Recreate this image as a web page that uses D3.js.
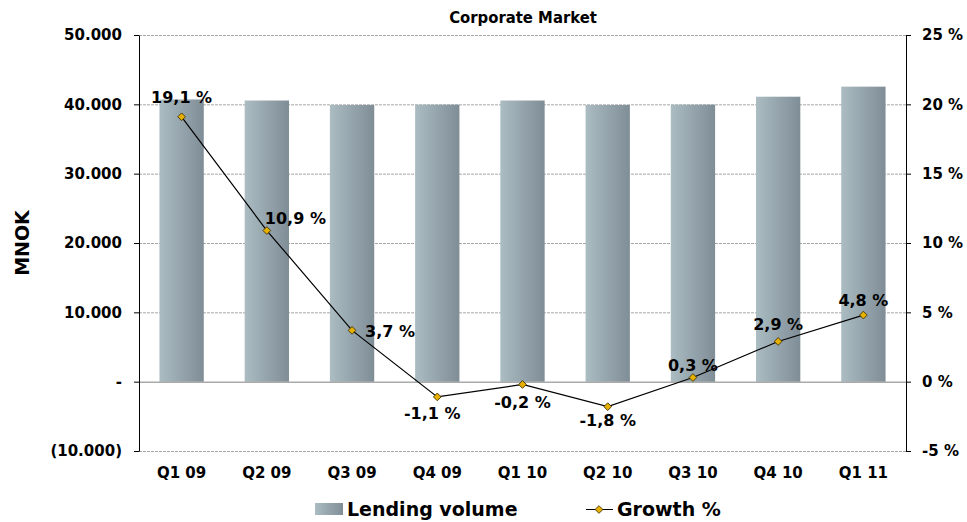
<!DOCTYPE html>
<html>
<head>
<meta charset="utf-8">
<script src="https://cdn.jsdelivr.net/npm/d3@7"></script>
<style>
  body { margin: 0; background: #fff; }
  text { font-family: "DejaVu Sans", Verdana, sans-serif; font-weight: bold; fill: #000; }
</style>
</head>
<body>
<script>
var quarters = ["Q1 09", "Q2 09", "Q3 09", "Q4 09", "Q1 10", "Q2 10", "Q3 10", "Q4 10", "Q1 11"];
var lending = [40700, 40550, 39900, 39950, 40550, 39900, 39950, 41100, 42550];
var growth = [19.1, 10.9, 3.7, -1.1, -0.2, -1.8, 0.3, 2.9, 4.8];
// label placement relative to each point: [dx, dy, anchor]
var labelPos = [[0, -14, "middle"], [-2, -7, "start"], [13, 7, "start"], [-5, 22, "middle"],
                [0, 24, "middle"], [0, 19, "middle"], [0, -7, "middle"], [0, -11, "middle"], [0, -9, "middle"]];
var leftTicks = [-10000, 0, 10000, 20000, 30000, 40000, 50000];
var rightTicks = [-5, 0, 5, 10, 15, 20, 25];

var margin = {top: 35, right: 61, bottom: 71, left: 139},
    width = 967 - margin.left - margin.right,
    height = 522 - margin.top - margin.bottom;

var x = d3.scaleBand()
    .domain(quarters)
    .range([0, width])
    .paddingInner(0.48)
    .paddingOuter(0.24);

var y = d3.scaleLinear()
    .domain([-10000, 50000])
    .range([height, 0]);

var y2 = d3.scaleLinear()
    .domain([-5, 25])
    .range([height, 0]);

var fmtLeft = function(d) {
  if (d === 0) return "-";
  var s = d3.format(",")(Math.abs(d)).replace(/,/g, ".");
  return d < 0 ? "(" + s + ")" : s;
};
var fmtPct = function(d) { return d3.format(".1f")(d).replace("\u2212", "-").replace(".", ",") + " %"; };

var svg = d3.select("body").append("svg")
    .attr("width", 967)
    .attr("height", 522);

var defs = svg.append("defs");
var grad = defs.append("linearGradient").attr("id", "barGrad")
    .attr("x1", "0%").attr("x2", "100%").attr("y1", "0%").attr("y2", "0%");
grad.append("stop").attr("offset", "0%").attr("stop-color", "#abbcc2");
grad.append("stop").attr("offset", "100%").attr("stop-color", "#7f8d97");

var g = svg.append("g")
    .attr("transform", "translate(" + margin.left + "," + margin.top + ")");

// grid lines
g.selectAll(".grid")
    .data(leftTicks.filter(function(d) { return d !== 0; }))
  .enter().append("line")
    .attr("x1", 0).attr("x2", width)
    .attr("y1", function(d) { return y(d) + 0.5; })
    .attr("y2", function(d) { return y(d) + 0.5; })
    .attr("stroke", "#a6a6a6")
    .attr("stroke-dasharray", "3,1");

// bars
g.selectAll(".bar")
    .data(lending)
  .enter().append("rect")
    .attr("class", "bar")
    .attr("x", function(d, i) { return x(quarters[i]); })
    .attr("width", x.bandwidth())
    .attr("y", function(d) { return y(d); })
    .attr("height", function(d) { return y(0) - y(d); })
    .attr("fill", "url(#barGrad)");

// zero line
g.append("line")
    .attr("x1", 0).attr("x2", width)
    .attr("y1", y(0) + 0.5).attr("y2", y(0) + 0.5)
    .attr("stroke", "#808080");

// left axis
var yAxis = d3.axisLeft(y).tickValues(leftTicks).tickFormat(fmtLeft).tickSize(6).tickSizeOuter(0);
var ya = g.append("g").call(yAxis);
ya.select(".domain").attr("stroke", "#000");
ya.selectAll(".tick line").attr("stroke", "#000").attr("x2", -5).attr("x1", 0);
ya.selectAll("text").attr("x", -17).style("font-size", "15px").style("font-family", "DejaVu Sans");

// right axis
var y2Axis = d3.axisRight(y2).tickValues(rightTicks).tickFormat(function(d) { return fmtPct(d).replace(",0", ""); }).tickSize(6).tickSizeOuter(0);
var yb = g.append("g").attr("transform", "translate(" + width + ",0)").call(y2Axis);
yb.selectAll(".tick line").attr("stroke", "#000").attr("x2", 5);
yb.selectAll("text").attr("x", 16).style("font-size", "15px").style("font-family", "DejaVu Sans");

// category labels
g.selectAll(".cat")
    .data(quarters)
  .enter().append("text")
    .attr("x", function(d) { return x(d) + x.bandwidth() / 2; })
    .attr("y", height + 27)
    .attr("text-anchor", "middle")
    .style("font-size", "15px")
    .text(function(d) { return d; });

// growth line
var line = d3.line()
    .x(function(d, i) { return x(quarters[i]) + x.bandwidth() / 2; })
    .y(function(d) { return y2(d); });

g.append("path")
    .datum(growth)
    .attr("d", line)
    .attr("fill", "none")
    .attr("stroke", "#000")
    .attr("stroke-width", 1.2);

var diamond = d3.symbol().type(d3.symbolSquare).size(30);

g.selectAll(".pt")
    .data(growth)
  .enter().append("path")
    .attr("d", diamond)
    .attr("transform", function(d, i) {
      return "translate(" + (x(quarters[i]) + x.bandwidth() / 2) + "," + y2(d) + ") rotate(45)";
    })
    .attr("fill", "#e6b000")
    .attr("stroke", "#3a2c00")
    .attr("stroke-width", 0.8);

// data labels
g.selectAll(".lbl")
    .data(growth)
  .enter().append("text")
    .attr("x", function(d, i) { return x(quarters[i]) + x.bandwidth() / 2 + labelPos[i][0]; })
    .attr("y", function(d, i) { return y2(d) + labelPos[i][1]; })
    .attr("text-anchor", function(d, i) { return labelPos[i][2]; })
    .style("font-size", "16px")
    .text(function(d) { return fmtPct(d); });

// title
svg.append("text")
    .attr("x", 523)
    .attr("y", 23)
    .attr("text-anchor", "middle")
    .style("font-family", "DejaVu Sans Condensed, DejaVu Sans")
    .style("font-size", "16.5px")
    .text("Corporate Market");

// y axis title
svg.append("text")
    .attr("transform", "translate(29," + (margin.top + height / 2) + ") rotate(-90)")
    .attr("text-anchor", "middle")
    .style("font-size", "19px")
    .text("MNOK");

// legend
var lg = svg.append("g").attr("transform", "translate(0,509)");
lg.append("rect")
    .attr("x", 315).attr("y", -6).attr("width", 28).attr("height", 12)
    .attr("fill", "url(#barGrad)");
lg.append("text")
    .attr("x", 347).attr("y", 7)
    .style("font-size", "19px")
    .text("Lending volume");
lg.append("line")
    .attr("x1", 586).attr("x2", 613).attr("y1", 0.5).attr("y2", 0.5)
    .attr("stroke", "#000");
lg.append("path")
    .attr("d", diamond)
    .attr("transform", "translate(599,0.5) rotate(45)")
    .attr("fill", "#e6b000")
    .attr("stroke", "#3a2c00")
    .attr("stroke-width", 0.8);
lg.append("text")
    .attr("x", 617).attr("y", 7)
    .style("font-size", "19px")
    .text("Growth %");
</script>
</body>
</html>
